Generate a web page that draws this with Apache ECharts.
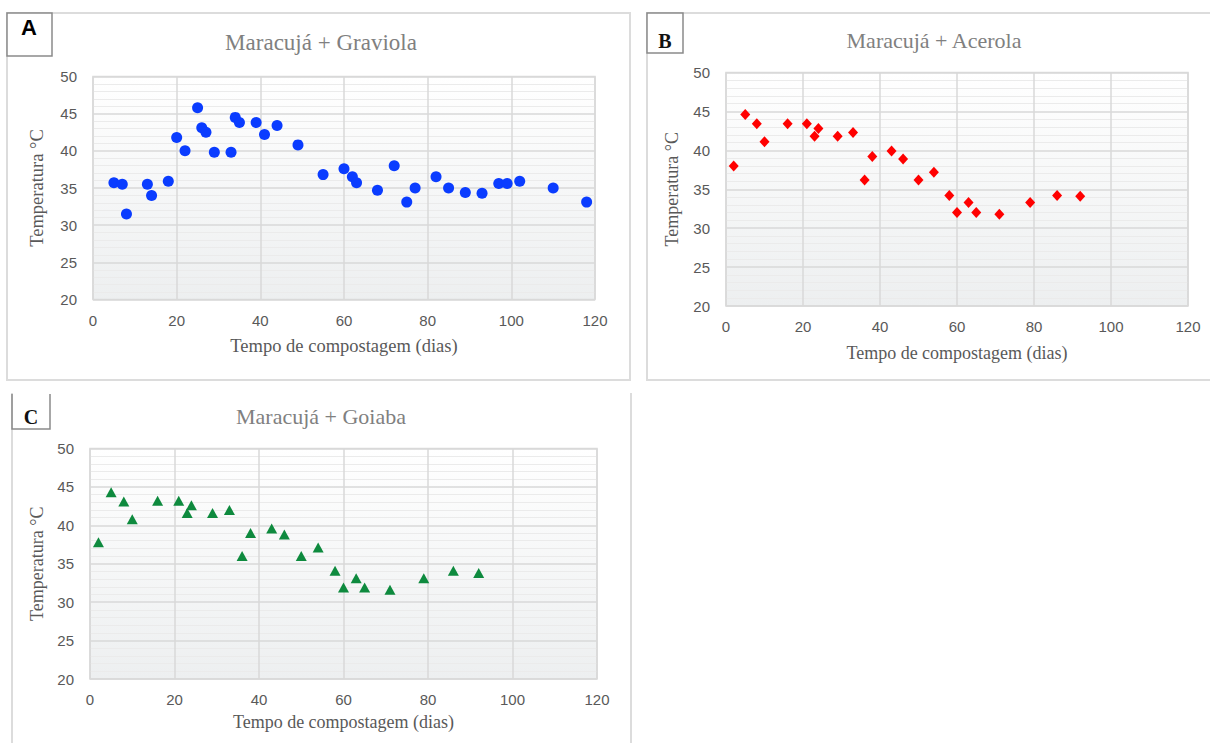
<!DOCTYPE html>
<html>
<head>
<meta charset="utf-8">
<script src="https://cdn.jsdelivr.net/npm/echarts@6/dist/echarts.min.js"></script>
<style>
html,body{margin:0;padding:0;background:#fff;}
#chart{width:1210px;height:743px;}
</style>
</head>
<body>
<div id="chart"></div>
<script>
// ---- Data ----
const titles = ['Maracujá + Graviola', 'Maracujá + Acerola', 'Maracujá + Goiaba'];
const panelLabels = ['A', 'B', 'C'];
const xAxisTitle = 'Tempo de compostagem (dias)';
const yAxisTitle = 'Temperatura °C';

const daysA = [5, 7, 8, 13, 14, 18, 20, 22, 25, 26, 27, 29, 33, 34, 35, 39, 41, 44, 49, 55, 60, 62, 63, 68, 72, 75, 77, 82, 85, 89, 93, 97, 99, 102, 110, 118];
const tempA = [35.7, 35.5, 31.5, 35.5, 34.0, 35.9, 41.8, 40.0, 45.8, 43.1, 42.5, 39.8, 39.8, 44.5, 43.8, 43.8, 42.2, 43.4, 40.8, 36.8, 37.6, 36.5, 35.7, 34.7, 38.0, 33.1, 35.0, 36.5, 35.0, 34.4, 34.3, 35.6, 35.6, 35.9, 35.0, 33.1];

const daysB = [2, 5, 8, 10, 16, 21, 23, 24, 29, 33, 36, 38, 43, 46, 50, 54, 58, 60, 63, 65, 71, 79, 86, 92];
const tempB = [38.0, 44.6, 43.4, 41.1, 43.4, 43.4, 41.8, 42.8, 41.8, 42.3, 36.2, 39.2, 39.9, 38.9, 36.2, 37.2, 34.2, 32.0, 33.3, 32.0, 31.8, 33.3, 34.2, 34.1];

const daysC = [2, 5, 8, 10, 16, 21, 23, 24, 29, 33, 36, 38, 43, 46, 50, 54, 58, 60, 63, 65, 71, 79, 86, 92];
const tempC = [37.8, 44.3, 43.1, 40.8, 43.2, 43.2, 41.6, 42.6, 41.6, 42.0, 36.0, 39.0, 39.6, 38.8, 36.0, 37.1, 34.1, 31.9, 33.1, 31.9, 31.6, 33.1, 34.1, 33.8];

const xMin = 0, xMax = 120, xStep = 20;
const yMin = 20, yMax = 50, yStep = 5;

// ---- Layout ----
const grids = [
  {left: 93, top: 76.5, width: 502, height: 223},
  {left: 726, top: 72.5, width: 462, height: 233.5},
  {left: 90, top: 448.5, width: 507, height: 230.5}
];
const titlePos = [[321, 42], [934, 40], [321, 416]];
const titleSize = [23, 22, 22];
const xNameGap = [37, 38, 34];
const yNameGap = [47, 45, 44];
const axisFont = [18.5, 18, 18];

const serif = "'Liberation Serif', 'Times New Roman', serif";
const sans = "'Liberation Sans', Arial, sans-serif";

function mkSeries(d, t) { return d.map((x, i) => [x, t[i]]); }
const seriesData = [mkSeries(daysA, tempA), mkSeries(daysB, tempB), mkSeries(daysC, tempC)];
const symbols = ['circle', 'diamond', 'triangle'];
const symbolSizes = [11, [10, 11], [11, 10]];
const colors = ['#0a3cff', '#ff0000', '#0e8a3e'];

const chart = echarts.init(document.getElementById('chart'), null, {renderer: 'svg'});

const bg = new echarts.graphic.LinearGradient(0, 0, 0, 1, [
  {offset: 0, color: '#ffffff'},
  {offset: 1, color: '#edeff0'}
]);

const titleTexts = titles.map((t, i) => ({
  type: 'text', x: titlePos[i][0], y: titlePos[i][1], silent: true,
  style: {text: t, fontFamily: serif, fontSize: titleSize[i], fill: '#808080', align: 'center', verticalAlign: 'middle'}
}));

const option = {
  backgroundColor: '#ffffff',
  animation: false,
  grid: grids.map(g => Object.assign({}, g, {
    show: true, backgroundColor: bg, borderColor: '#d9d9d9', borderWidth: 1.5, containLabel: false
  })),
  xAxis: grids.map((g, i) => ({
    type: 'value', gridIndex: i, min: xMin, max: xMax, interval: xStep,
    name: xAxisTitle, nameLocation: 'middle', nameGap: xNameGap[i],
    nameTextStyle: {fontFamily: serif, fontSize: axisFont[i], color: '#595959'},
    axisLine: {show: false}, axisTick: {show: false},
    axisLabel: {fontFamily: sans, fontSize: 15, color: '#595959', margin: 13},
    splitLine: {show: true, lineStyle: {color: '#d9d9d9', width: 1.5}}
  })),
  yAxis: grids.map((g, i) => ({
    type: 'value', gridIndex: i, min: yMin, max: yMax, interval: yStep,
    name: yAxisTitle, nameLocation: 'middle', nameGap: yNameGap[i], nameRotate: 90,
    nameTextStyle: {fontFamily: serif, fontSize: axisFont[i], color: '#595959'},
    axisLine: {show: false}, axisTick: {show: false},
    axisLabel: {fontFamily: sans, fontSize: 15, color: '#595959', margin: 16},
    splitLine: {show: true, lineStyle: {color: '#d9d9d9', width: 1.5}},
    minorTick: {show: false, splitNumber: 5},
    minorSplitLine: {show: true, lineStyle: {color: '#ebebeb', width: 1}}
  })),
  series: seriesData.map((d, i) => ({
    type: 'scatter', xAxisIndex: i, yAxisIndex: i, data: d,
    symbol: symbols[i], symbolSize: symbolSizes[i],
    itemStyle: {color: colors[i], opacity: 1}
  })),
  graphic: [
    // panel frames
    {type: 'rect', shape: {x: 7, y: 13, width: 623, height: 367}, style: {fill: 'none', stroke: '#dcdcdc', lineWidth: 2}, silent: true},
    {type: 'polyline', shape: {points: [[1215, 13], [647, 13], [647, 380], [1215, 380]]}, style: {fill: 'none', stroke: '#dcdcdc', lineWidth: 2}, silent: true},
    {type: 'polyline', shape: {points: [[12, 750], [12, 393]]}, style: {fill: 'none', stroke: '#dcdcdc', lineWidth: 2}, silent: true},
    {type: 'polyline', shape: {points: [[631, 393], [631, 750]]}, style: {fill: 'none', stroke: '#dcdcdc', lineWidth: 2}, silent: true},
    // label boxes
    {type: 'rect', shape: {x: 7, y: 13, width: 45, height: 43}, style: {fill: '#fff', stroke: '#8a8a8a', lineWidth: 1.5}, silent: true},
    {type: 'text', x: 29, y: 27, style: {text: panelLabels[0], fontFamily: sans, fontWeight: 'bold', fontSize: 22, fill: '#000', align: 'center', verticalAlign: 'middle'}, silent: true},
    {type: 'rect', shape: {x: 647, y: 13, width: 36, height: 40}, style: {fill: '#fff', stroke: '#8a8a8a', lineWidth: 1.5}, silent: true},
    {type: 'text', x: 665, y: 41, style: {text: panelLabels[1], fontFamily: serif, fontWeight: 'bold', fontSize: 20, fill: '#111', align: 'center', verticalAlign: 'middle'}, silent: true},
    {type: 'polyline', shape: {points: [[12, 394], [12, 429], [50, 429], [50, 394]]}, style: {fill: 'none', stroke: '#8a8a8a', lineWidth: 1.5}, silent: true},
    {type: 'text', x: 31, y: 417, style: {text: panelLabels[2], fontFamily: serif, fontWeight: 'bold', fontSize: 20, fill: '#111', align: 'center', verticalAlign: 'middle'}, silent: true}
  ].concat(titleTexts)
};
chart.setOption(option);
</script>
</body>
</html>
